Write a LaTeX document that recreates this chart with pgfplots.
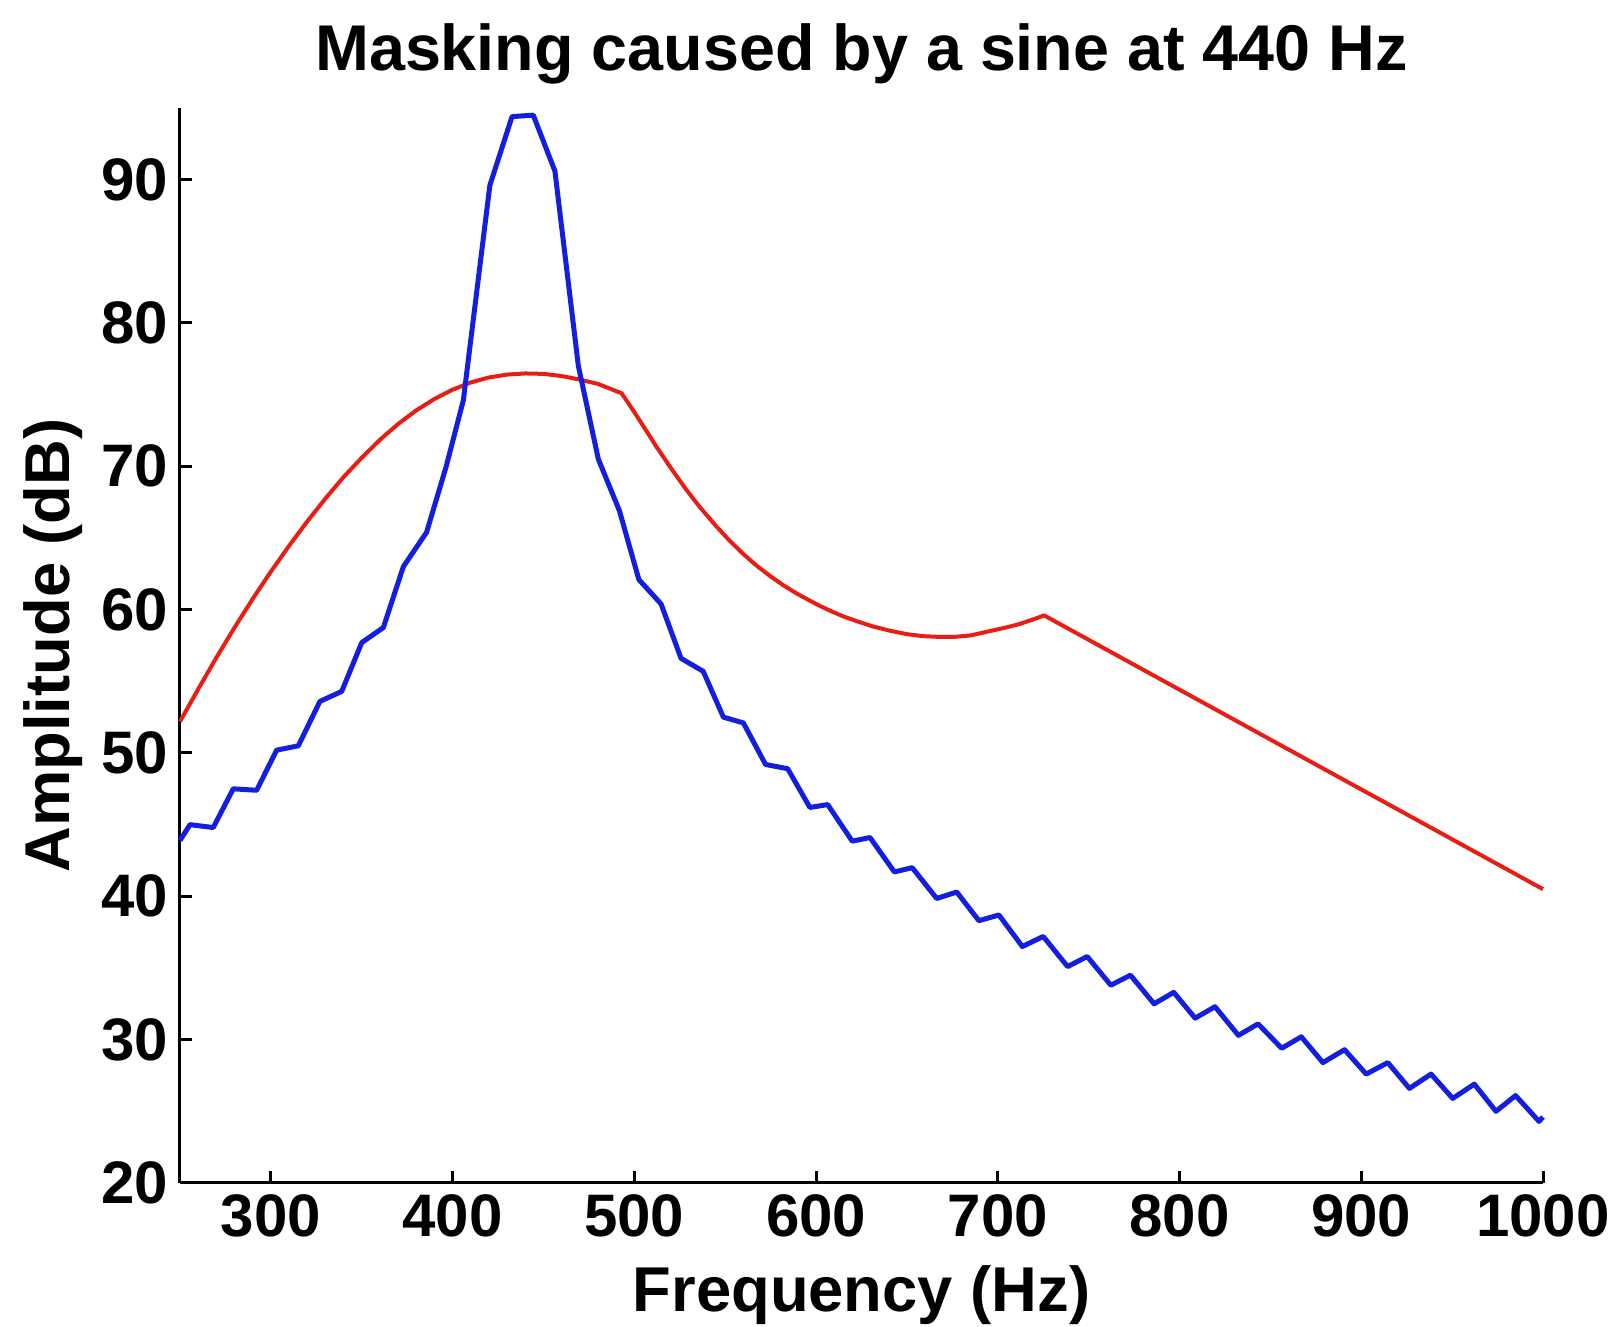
\documentclass[border=0pt]{standalone}
\usepackage{fontspec}
\setmainfont{Liberation Sans}
\usepackage{pgfplots}
\pgfplotsset{compat=1.18}
\definecolor{mblue}{RGB}{20,30,222}
\definecolor{mred}{RGB}{232,30,20}
\begin{document}
\begin{tikzpicture}
\begin{axis}[
  name=ax,
  scale only axis,
  width=408.9pt, height=322.5pt,
  xmin=250, xmax=1000, ymin=20, ymax=95,
  axis lines*=left,
  axis line style={line width=0.9pt, black},
  tick align=inside,
  major tick length=3.6pt,
  tick style={line width=0.9pt, black},
  xtick={300,400,500,600,700,800,900,1000},
  ytick={20,30,40,50,60,70,80,90},
  /pgf/number format/assume math mode=true,
  /pgf/number format/1000 sep={},
  every tick label/.append style={font=\fontsize{18}{18}\selectfont\bfseries},
  title={Masking caused by a sine at 440 Hz},
  title style={at={(axis description cs:0.5,1.0381)}, anchor=base, yshift=-7pt, font=\fontsize{19.4}{19.4}\selectfont\bfseries},
  xlabel={Frequency (Hz)},
  xlabel style={at={(axis description cs:0.5,-0.12)}, anchor=base, font=\fontsize{19}{19}\selectfont\bfseries},
  ylabel={Amplitude (dB)},
  ylabel style={at={(axis description cs:-0.0807,0.5)}, anchor=base, font=\fontsize{19}{19}\selectfont\bfseries},
  clip=false,
]
\addplot[mred, line width=1.2pt, line join=round] coordinates {
(250,52.2) (260,54.45) (270,56.65) (280,58.75) (290,60.75) (300,62.65) (310,64.45) (320,66.15)
(330,67.75) (340,69.25) (350,70.6) (360,71.85) (370,72.95) (380,73.9) (390,74.7) (400,75.35)
(410,75.85) (420,76.2) (430,76.4) (440,76.48) (450,76.45) (460,76.3) (470,76.05) (480,75.75)
(493,75.1) (500,73.78) (507,72.4) (512,71.4) (520,69.9) (528,68.47) (536,67.16) (545,65.83)
(552,64.87) (560,63.88) (567,63.1) (575,62.32) (582,61.7) (590,61.08) (601,60.33) (608,59.91)
(615,59.53) (623,59.17) (631,58.84) (640,58.55) (650,58.29) (659,58.15) (668,58.1) (676,58.1)
(685,58.2) (692,58.4) (699,58.6) (706,58.8) (712,59.0) (719,59.3) (725.5,59.6) (1000,40.5)
};
\addplot[mblue, line width=1.5pt, line join=round] coordinates {
(250,43.9) (255.5,45.0) (268.3,44.8) (279.3,47.5) (292.2,47.4) (303.2,50.2) (315.1,50.5)
(327.0,53.6) (339.0,54.3) (350.0,57.7) (361.9,58.75) (372.9,63.0) (385.7,65.4) (396.5,70.0)
(405.9,74.6) (420.5,89.6) (432.7,94.4) (444.4,94.5) (456.3,90.6) (469.2,77.0) (480.2,70.5)
(491.8,66.9) (502.5,62.1) (514.7,60.4) (525.7,56.6) (537.9,55.7) (549.0,52.5) (560.0,52.1)
(572.2,49.2) (584.4,48.9) (596.6,46.2) (606.4,46.4) (619.9,43.85) (629.7,44.1) (643.1,41.7)
(652.9,42.0) (666.4,39.85) (677.4,40.3) (689.6,38.3) (700.6,38.7) (713.5,36.5) (725.0,37.2)
(738.4,35.1) (749.2,35.8) (762.2,33.8) (773.0,34.5) (786.0,32.5) (796.8,33.3) (808.6,31.5)
(819.5,32.3) (832.4,30.3) (843.2,31.1) (856.2,29.4) (867.0,30.2) (878.9,28.4) (890.8,29.3)
(902.7,27.6) (914.6,28.4) (926.5,26.6) (938.4,27.6) (950.3,25.9) (962.2,26.9) (974.1,25.0)
(984.9,26.1) (997.8,24.3) (1000,24.6)
};
\end{axis}
\pgfresetboundingbox
\useasboundingbox ([xshift=-54pt,yshift=-43.2pt]ax.south west) rectangle ([xshift=21pt,yshift=32.4pt]ax.north east);
\end{tikzpicture}
\end{document}
